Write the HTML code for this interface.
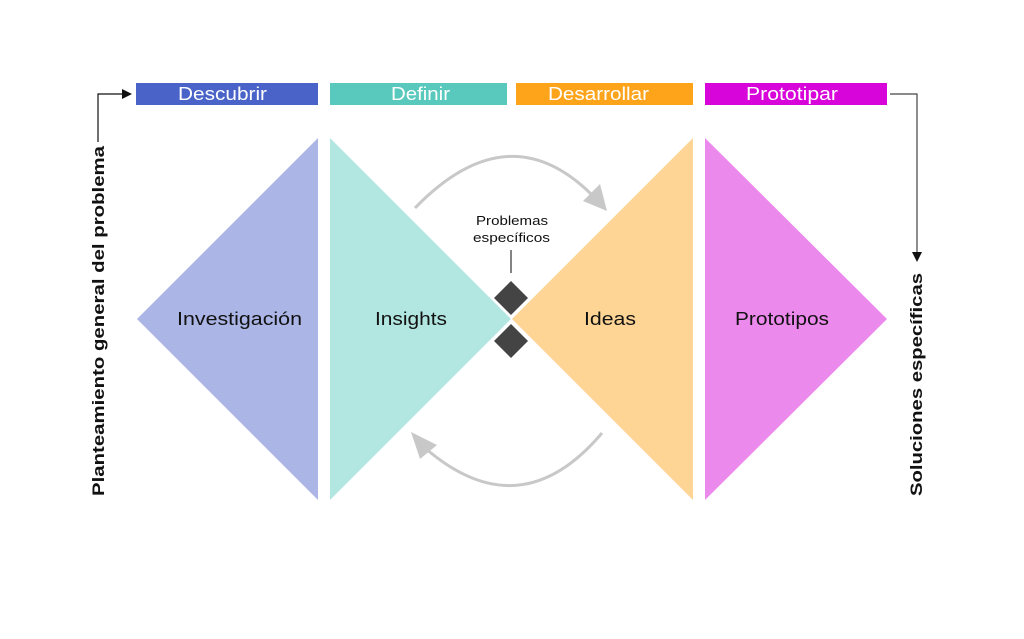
<!DOCTYPE html>
<html><head><meta charset="utf-8"><style>
html,body{margin:0;padding:0;background:#fff;}
svg{display:block;font-family:"Liberation Sans",sans-serif;}
</style></head><body>
<svg width="1024" height="639" viewBox="0 0 1024 639" xmlns="http://www.w3.org/2000/svg">
<defs>
<marker id="ab" markerWidth="10" markerHeight="10" refX="8" refY="5" orient="auto" markerUnits="userSpaceOnUse"><path d="M0,0 L10,5 L0,10 Z" fill="#111"/></marker>
</defs>
<rect x="136" y="83" width="182" height="22" fill="#4963c8"/>
<rect x="330" y="83" width="177" height="22" fill="#5ac9bd"/>
<rect x="516" y="83" width="177" height="22" fill="#fda41b"/>
<rect x="705" y="83" width="182" height="22" fill="#d705d9"/>
<g fill="#fff" font-size="18" lengthAdjust="spacingAndGlyphs">
<text x="178" y="100" textLength="89" lengthAdjust="spacingAndGlyphs">Descubrir</text>
<text x="391" y="100" textLength="59" lengthAdjust="spacingAndGlyphs">Definir</text>
<text x="548" y="100" textLength="101" lengthAdjust="spacingAndGlyphs">Desarrollar</text>
<text x="746" y="100" textLength="92" lengthAdjust="spacingAndGlyphs">Prototipar</text>
</g>
<polygon points="318,138 318,500 137,319" fill="#abb5e6"/>
<polygon points="330,138 330,500 511,319" fill="#b1e6e1"/>
<polygon points="693,138 693,500 512,319" fill="#fed595"/>
<polygon points="705,138 705,500 887,319" fill="#ec89ed"/>
<g font-size="18" fill="#111">
<text x="177" y="325" textLength="125" lengthAdjust="spacingAndGlyphs">Investigación</text>
<text x="375" y="325" textLength="72" lengthAdjust="spacingAndGlyphs">Insights</text>
<text x="584" y="325" textLength="52" lengthAdjust="spacingAndGlyphs">Ideas</text>
<text x="735" y="325" textLength="94" lengthAdjust="spacingAndGlyphs">Prototipos</text>
</g>
<polygon points="511,281 528,298 511,315 494,298" fill="#444"/>
<polygon points="511,324 528,341 511,358 494,341" fill="#444"/>
<line x1="511" y1="250" x2="511" y2="273" stroke="#333" stroke-width="1.2"/>
<g font-size="13" fill="#111">
<text x="476" y="225" textLength="72" lengthAdjust="spacingAndGlyphs">Problemas</text>
<text x="473" y="242" textLength="77" lengthAdjust="spacingAndGlyphs">específicos</text>
</g>
<path d="M415,208 Q510,110 595,198" fill="none" stroke="#c8c8c8" stroke-width="3"/>
<polygon points="607,211 583,201 600,184" fill="#c8c8c8"/>
<path d="M602,433 Q520,530 425,448" fill="none" stroke="#c8c8c8" stroke-width="3"/>
<polygon points="411,432 437,445 420,459" fill="#c8c8c8"/>
<path d="M98,142 L98,94 L130,94" fill="none" stroke="#111" stroke-width="1.2" marker-end="url(#ab)"/>
<path d="M890,94 L917,94 L917,260" fill="none" stroke="#444" stroke-width="1.2" marker-end="url(#ab)"/>
<text transform="translate(104,496) rotate(-90)" font-size="17" font-weight="bold" fill="#111" textLength="350" lengthAdjust="spacingAndGlyphs">Planteamiento general del problema</text>
<text transform="translate(922,496) rotate(-90)" font-size="17" font-weight="bold" fill="#111" textLength="223" lengthAdjust="spacingAndGlyphs">Soluciones específicas</text>
</svg>
</body></html>
